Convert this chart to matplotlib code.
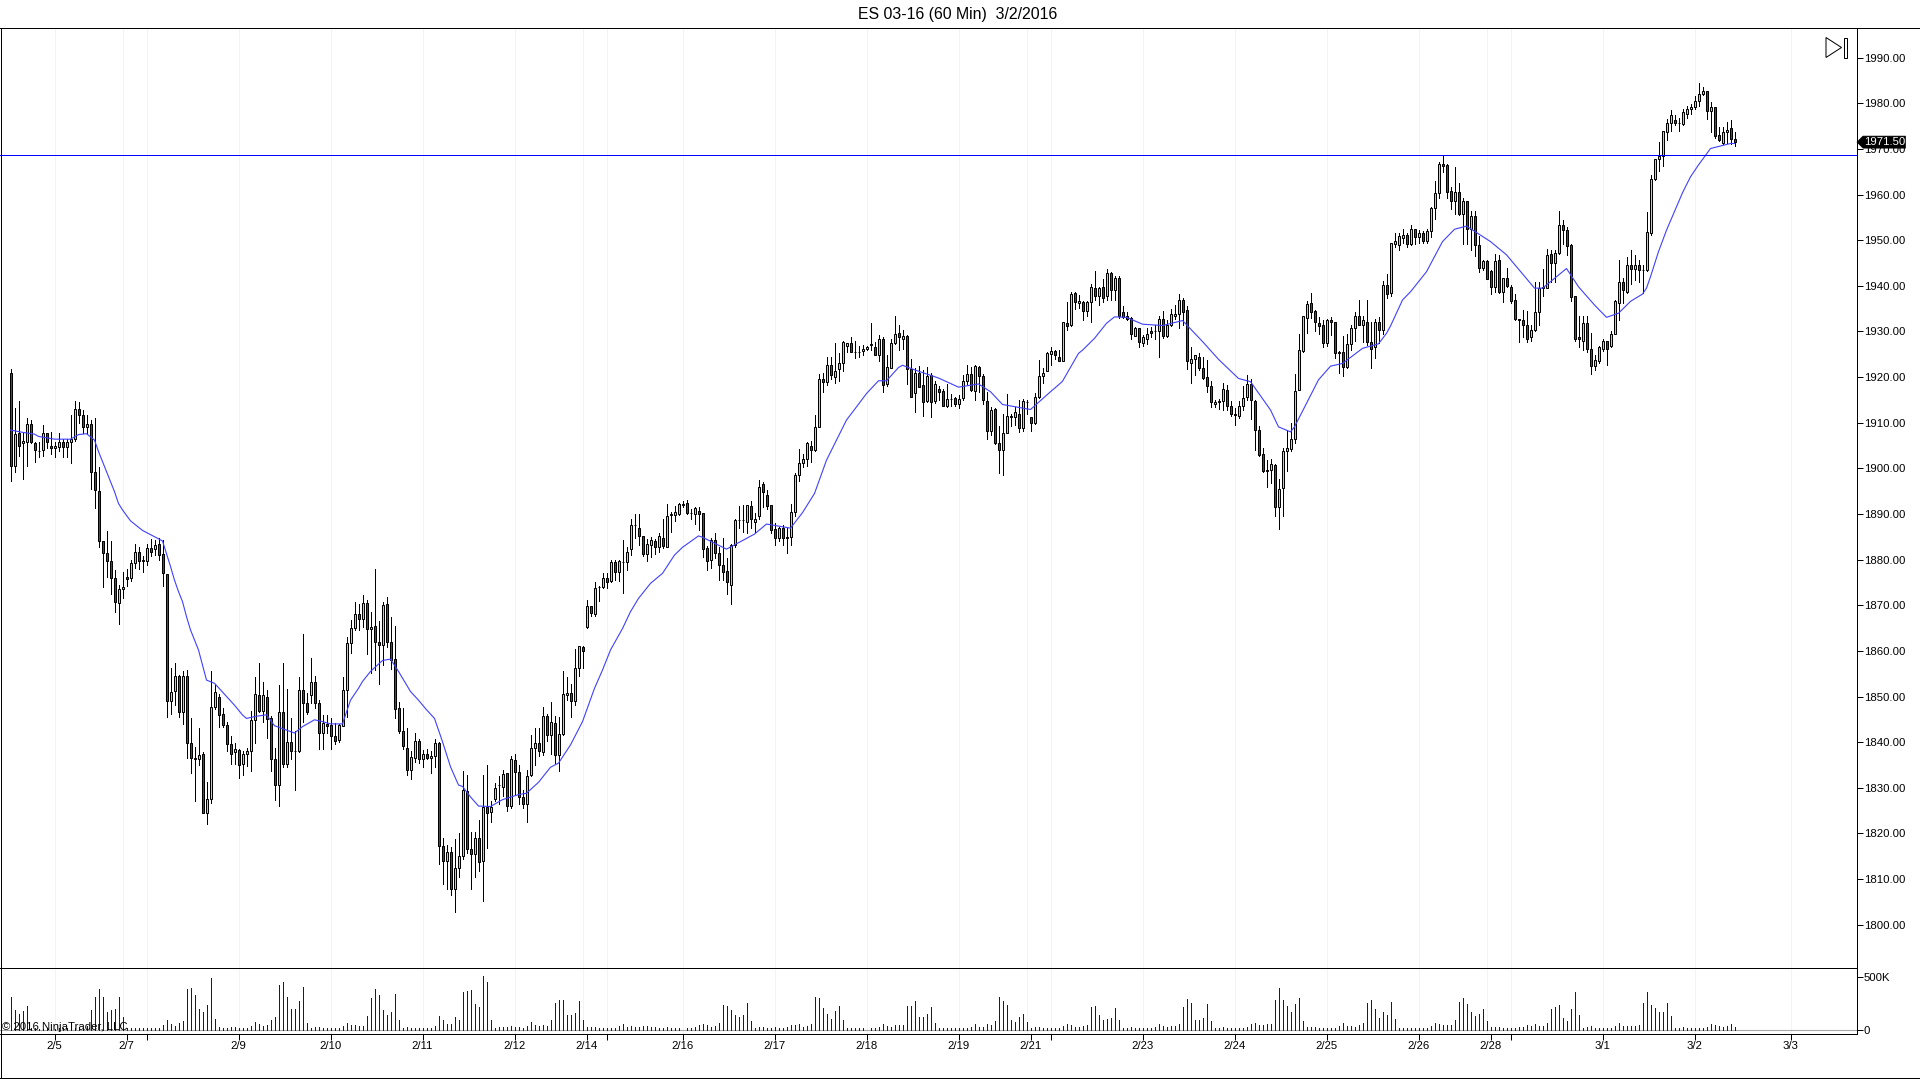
"""
ES 03-16 (60 Min) candlestick chart with a moving average and a volume panel.

Values were read off the reference picture, one bar at a time.
"""

import numpy as np
import matplotlib
matplotlib.use("Agg")
import matplotlib.pyplot as plt
from matplotlib.lines import Line2D
from matplotlib.patches import Polygon, Rectangle

opens = [
    1921, 1900.5, 1907.75, 1905.5, 1905.75, 1909.75, 1905.5, 1903.75, 1904, 1907.75,
    1905, 1904.5, 1904.75, 1905.75, 1904.75, 1905.75, 1906.5, 1913, 1911.75, 1909,
    1909.75, 1899.25, 1895, 1884, 1881.5, 1879.75, 1876, 1870.5, 1873.5, 1876.25,
    1876, 1879.25, 1881.75, 1880, 1879.75, 1882.5, 1882.25, 1883.5, 1881.25, 1876.75,
    1849, 1851.25, 1854.5, 1846.5, 1854.5, 1839.75, 1836.5, 1836.25, 1837.5, 1824.5,
    1827.5, 1847.75, 1850, 1846.25, 1843.75, 1839.5, 1837.75, 1838.25, 1835.25, 1837.5,
    1838, 1844.75, 1850.25, 1846.75, 1850, 1845.25, 1836.25, 1830.5, 1846.5, 1835.25,
    1840, 1838, 1838, 1851.5, 1848.5, 1850.25, 1853.25, 1848.5,
    1842, 1844, 1843.75, 1841.25, 1840.5, 1843.5, 1851.5, 1861.75, 1865, 1868,
    1867, 1870.5, 1864.75, 1865.5, 1862, 1861.25, 1870.25, 1862, 1858.25, 1847.5,
    1842.5, 1838.75, 1834, 1836.5, 1840.25, 1836.25, 1837.5, 1836.5, 1837, 1839.75,
    1817.25, 1814, 1816, 1807.75, 1812.5, 1815, 1829.25, 1816.5, 1815.5, 1819,
    1814, 1825.75, 1824.75, 1827.5, 1830.5, 1830.25, 1833.25, 1826, 1836, 1833.5,
    1828, 1826.5, 1832.75, 1838.75, 1839.75, 1837.75, 1845.75, 1841.5, 1844.25, 1837.25,
    1841.75, 1850.25, 1850.75, 1849, 1856.25, 1860.75,
    1865.25, 1869.75, 1868, 1874, 1874, 1876, 1875.25, 1879.5, 1877.25, 1879.5,
    1879.5, 1882.25, 1887.5, 1887,
    1885.25, 1881.25, 1883.25, 1884, 1882.75, 1884.75, 1882.75, 1889.75, 1889.75, 1890,
    1892, 1892.5, 1890.25, 1890, 1890.75, 1890.25, 1882.5, 1880, 1884.25, 1881.5,
    1878.75, 1877.5, 1874.5, 1883.25, 1888.75, 1888.75, 1888.25, 1891.75, 1888.25, 1889.5,
    1896.5, 1894.25, 1892, 1886.75, 1884.75, 1887, 1885, 1885, 1890.5, 1898.5,
    1901.25, 1902, 1905, 1904, 1909, 1919.5, 1919, 1922.75, 1920, 1921.75,
    1923, 1926.75, 1927.5, 1925.5, 1925.5, 1925.75, 1926.25, 1927, 1926.5, 1924.75,
    1928.25, 1918.5, 1922, 1927.5, 1929.75,
    1928.25, 1929, 1921.75, 1916.5, 1921, 1918.25, 1914.75, 1920.5, 1914.75, 1917.5,
    1917, 1913.75, 1915.25, 1915.5, 1914, 1915.5, 1919.25, 1920.75, 1917, 1922.25,
    1920.25, 1914.75, 1908.25, 1913, 1905.5, 1904, 1907.75, 1911.25, 1911.25, 1912,
    1908.75, 1914.5, 1911.25, 1910, 1915.75, 1920.25, 1921.25, 1925, 1925.75, 1924.5,
    1923.5, 1931.75, 1931.5, 1938.5, 1936.25, 1936.5, 1934.5, 1936.5, 1939.5, 1937.75,
    1939.75, 1937.75, 1942.75, 1939, 1941.75, 1934.25, 1933.5, 1933, 1929, 1930.75,
    1927.5, 1928.25, 1930, 1930, 1930, 1932.75, 1929, 1931.5, 1933.5, 1933.75,
    1937, 1934.75, 1923, 1924, 1924.5, 1922, 1920, 1918, 1914, 1914.75,
    1914.75, 1917.25, 1913.75, 1912, 1911.5, 1913.75, 1915.75, 1918.5, 1914.75, 1908.5,
    1903.25, 1899.75, 1899.75, 1900.75, 1891.5, 1895.75, 1903.75, 1904.25, 1906.5, 1917.25,
    1925.75, 1933, 1936.25, 1934.5, 1931.75, 1931.5, 1927.5, 1932.5, 1932, 1925.5,
    1925.5, 1922.25, 1927.25, 1930.75, 1933.5, 1931.5, 1932, 1927.75, 1926.5, 1932,
    1930.25, 1940.25, 1938.5, 1949.25, 1949, 1950.5, 1951.25, 1949.25, 1952.5, 1950.75,
    1951.5, 1949.75, 1952, 1957, 1960.25, 1966.75, 1966.5, 1960.75, 1958.5, 1960.5,
    1955.75, 1958.5, 1952.5, 1955.25, 1949, 1944, 1945.5, 1943.25, 1939.75, 1945.75,
    1938.75, 1941.75, 1939.75, 1937, 1932.75, 1932.5, 1931.5, 1928.75, 1930.25, 1934.25,
    1939.5, 1939.5, 1947, 1945, 1947.25, 1953.25, 1952.25, 1949, 1937.75, 1928.75,
    1928, 1931.75, 1926.25, 1922.5, 1923.5, 1926.25, 1928, 1926.75, 1929.5, 1936.25,
    1940.75, 1938.75, 1944.5, 1943.75, 1944.5, 1943.5, 1943.5, 1951.5, 1963.5, 1967.75,
    1968.5, 1973.75, 1975.75, 1976.25, 1975.75, 1975.5, 1977.75, 1978.75, 1979.25, 1980.5,
    1982, 1982.75, 1978.25, 1979.25, 1973, 1971.25, 1973.75, 1974.5, 1972.25,
]
highs = [
    1921.75, 1913.25, 1914.75, 1907.75, 1911, 1910.5, 1905.75, 1905.75, 1909.5, 1907.75,
    1908, 1905.75, 1907.75, 1906.5, 1906.5, 1911.75, 1914.75, 1914.5, 1912.75, 1911.75,
    1910.5, 1911, 1900.25, 1884, 1886.25, 1884, 1877.75, 1874.5, 1877.25, 1878,
    1880, 1883.5, 1882.75, 1880.75, 1883.5, 1884.5, 1884.25, 1884.75, 1884.25, 1876.75,
    1856.25, 1857.25, 1854.75, 1855.5, 1855.75, 1845.25, 1839, 1843, 1837.75, 1831.25,
    1855.5, 1852.5, 1850.5, 1847.5, 1844.5, 1841.25, 1839.75, 1838.5, 1838, 1838.75,
    1846.75, 1854.25, 1857.25, 1853.25, 1851.5, 1845.75, 1838.75, 1852.5, 1857.25, 1851.75,
    1845.25, 1842.5, 1854.25, 1863.75, 1850.75, 1858.5, 1854.5, 1849.25,
    1846, 1846, 1845.25, 1844.25, 1844, 1854.25, 1863, 1866.75, 1870.75, 1870.25,
    1872.25, 1871.25, 1868.5, 1878, 1866.5, 1870.75, 1871.75, 1867.5, 1865.5, 1848.75,
    1847.5, 1843, 1838, 1842, 1840.75, 1838.25, 1838.5, 1838, 1840.75, 1840,
    1819, 1817.5, 1817, 1818.75, 1820, 1833.75, 1832.75, 1820.25, 1820.25, 1823,
    1832.75, 1835, 1827, 1831, 1832.5, 1834, 1833.25, 1837, 1837.5, 1835,
    1829.5, 1834, 1841.5, 1843, 1843, 1847.75, 1846.25, 1848.75, 1845.75, 1845.5,
    1855.5, 1854.25, 1852.75, 1860.5, 1861, 1861,
    1871.25, 1869.75, 1875, 1874.25, 1877, 1877, 1880, 1880, 1880, 1884.25,
    1882.75, 1889, 1890, 1890,
    1885.25, 1884.5, 1885, 1884.5, 1885.75, 1889, 1892.25, 1890.5, 1891.75, 1892.5,
    1892.75, 1893, 1891, 1891.5, 1891.5, 1890.25, 1883, 1884.75, 1885.75, 1882.75,
    1884.75, 1880.25, 1883.5, 1889, 1891.75, 1892, 1892, 1892.75, 1890.25, 1897.5,
    1897, 1895.25, 1892, 1888, 1887.25, 1887.5, 1887, 1892.25, 1899, 1904.25,
    1903.25, 1905.75, 1906, 1911.75, 1920.75, 1921, 1924.5, 1924.5, 1927.5, 1925.25,
    1928, 1927.5, 1928.75, 1928, 1926.75, 1927, 1926.75, 1931.75, 1927.75, 1929.25,
    1928.75, 1924.75, 1928.25, 1933.5, 1931.5,
    1930.25, 1929.25, 1924, 1922, 1922.5, 1921.5, 1922.25, 1921, 1919.25, 1918,
    1917.5, 1918.5, 1916.25, 1915.75, 1916, 1920.5, 1922.75, 1922.25, 1922.75, 1922.5,
    1920.75, 1916.75, 1913.5, 1913.25, 1909.25, 1912, 1916.25, 1912, 1913.5, 1915,
    1915.25, 1915, 1911.25, 1916.5, 1923.75, 1922, 1925.5, 1926.5, 1926, 1926,
    1932, 1936.5, 1938.75, 1938.75, 1938, 1936.75, 1936.75, 1940.5, 1943.25, 1939.75,
    1941.5, 1943.75, 1943, 1942.25, 1942.25, 1935.5, 1934.25, 1933.25, 1931, 1930.75,
    1929.25, 1930.75, 1931, 1931.5, 1933.5, 1934.5, 1932.5, 1935, 1935.75, 1938.25,
    1937.25, 1935.5, 1926.5, 1924.75, 1925.25, 1924.5, 1923.75, 1919.25, 1915, 1915.25,
    1918.75, 1918.25, 1914.75, 1913.25, 1914.75, 1918, 1920.5, 1919.5, 1915, 1909.25,
    1904.5, 1901.75, 1902, 1901, 1897.75, 1904.5, 1908.5, 1910, 1920.75, 1929.5,
    1933.5, 1936.75, 1938.5, 1934.75, 1933.25, 1932.5, 1932.75, 1933.25, 1932, 1925.75,
    1929, 1929.5, 1931.5, 1934.25, 1937, 1933.5, 1937, 1932, 1932.75, 1933.25,
    1941, 1942.5, 1949.5, 1951.5, 1951.5, 1952.5, 1951.5, 1953.25, 1952.5, 1952.25,
    1952, 1952.5, 1957.25, 1963, 1967.25, 1968.75, 1966.75, 1961.75, 1966, 1962.5,
    1959.25, 1958.5, 1956.5, 1956.5, 1951, 1945.75, 1945.75, 1943.5, 1947, 1946.75,
    1941.75, 1944, 1940.25, 1938.25, 1932.75, 1934.75, 1934.5, 1931.5, 1940.75, 1940.75,
    1943.75, 1948, 1947.75, 1947.75, 1956.5, 1954.5, 1953, 1949.25, 1937.75, 1933.5,
    1933.5, 1933.5, 1929.75, 1924.75, 1926.75, 1928.25, 1928, 1930, 1937, 1945.75,
    1941.75, 1946.25, 1947.75, 1946.75, 1945.75, 1944.5, 1956.25, 1964.25, 1967.75, 1971.5,
    1974, 1976.5, 1978.5, 1977.5, 1976.75, 1978.75, 1979.5, 1979.75, 1981.5, 1984.5,
    1983.5, 1982.75, 1980.25, 1979.25, 1974.75, 1974.75, 1976, 1976.25, 1973.75,
]
lows = [
    1897.25, 1899.25, 1902.75, 1897.75, 1900.5, 1905.5, 1901.5, 1902.5, 1902.75, 1904.5,
    1903.25, 1902.5, 1903.75, 1902.5, 1902.5, 1901.25, 1906, 1910, 1907.75, 1907.75,
    1895.5, 1891.25, 1882.75, 1874, 1876.25, 1872.5, 1868.5, 1866, 1871.5, 1874.25,
    1875.25, 1878.25, 1878, 1877.25, 1878.75, 1880.75, 1881, 1880, 1874.25, 1845.5,
    1846.25, 1848.25, 1845.5, 1844, 1836.5, 1833.25, 1827, 1835, 1824.5, 1822,
    1826.75, 1847.25, 1843.25, 1843.25, 1838, 1835.25, 1835.25, 1832.25, 1832.75, 1834.75,
    1833.75, 1839.75, 1846.5, 1844.5, 1841, 1833.75, 1827.25, 1826, 1834.5, 1834.5,
    1836.25, 1829.5, 1837.75, 1844.5, 1846.25, 1848.5, 1847.5, 1838.5,
    1838.5, 1842, 1838.5, 1839.5, 1840, 1843.5, 1845.5, 1859.5, 1864.5, 1864.5,
    1865.25, 1859.25, 1855.25, 1855.75, 1852.75, 1857, 1860.75, 1856, 1845.25, 1842,
    1838.5, 1832.75, 1832, 1835.75, 1835.5, 1834.5, 1836.25, 1833.25, 1834.5, 1813.25,
    1809, 1807.75, 1806.5, 1802.75, 1810.5, 1814.5, 1815.75, 1807.75, 1810.5, 1811.75,
    1805.25, 1816.75, 1822.5, 1827, 1826.5, 1828.25, 1825, 1825.5, 1828.5, 1826.5,
    1825.5, 1822.5, 1832.5, 1835, 1837, 1837.25, 1840.25, 1837.5, 1835.5, 1833.75,
    1841.5, 1849.25, 1845.5, 1848.25, 1854.5, 1856.25,
    1865, 1867.75, 1867.75, 1871, 1873.75, 1873.75, 1875, 1875.5, 1875.25, 1872.75,
    1877.75, 1881, 1884.75, 1883.25,
    1880.75, 1879.75, 1880.5, 1881.25, 1881.75, 1882.5, 1882.75, 1886, 1888.5, 1889.75,
    1891.5, 1890, 1889, 1887.75, 1886.5, 1880.5, 1877.75, 1878.25, 1880.25, 1875.5,
    1875.5, 1872.5, 1870.25, 1882.75, 1887, 1886, 1885.75, 1887, 1886, 1889,
    1891.5, 1891, 1885.75, 1883.25, 1884, 1883.25, 1881.5, 1883.25, 1889.5, 1897.25,
    1900.25, 1900.5, 1901.5, 1903.75, 1909, 1916.75, 1918.25, 1919.5, 1918.75, 1919.25,
    1921.25, 1925.5, 1925.5, 1924.25, 1924.5, 1924.75, 1926, 1926, 1924.75, 1923.5,
    1916.75, 1918, 1922, 1927.25, 1926,
    1926.25, 1918.5, 1915.75, 1912.25, 1917.75, 1911.5, 1914.5, 1911.25, 1914.25, 1915,
    1913.75, 1913.5, 1913.75, 1913.75, 1913.25, 1915, 1918.5, 1917, 1915, 1916.75,
    1914, 1906.5, 1907.25, 1905.25, 1899, 1898.5, 1907.75, 1909.25, 1909.5, 1908,
    1908.25, 1912, 1908.25, 1909.75, 1915.5, 1918.75, 1921.25, 1922.75, 1924, 1923.5,
    1923.5, 1930.25, 1931.25, 1935, 1935.25, 1932.5, 1933.5, 1932, 1937, 1935.75,
    1936.5, 1937, 1937, 1937, 1933, 1933, 1932.5, 1928.25, 1929, 1926.5,
    1926.75, 1927.25, 1928.75, 1928.25, 1924.5, 1928.5, 1928.75, 1931.25, 1932.75, 1930.75,
    1931.5, 1921.75, 1918.75, 1920.5, 1921.5, 1919.5, 1916.75, 1913.5, 1913.5, 1913,
    1912.75, 1912.75, 1911.5, 1909.5, 1911, 1912.75, 1915, 1910.75, 1904, 1902.75,
    1899.25, 1896, 1896.75, 1889.5, 1886.75, 1889.5, 1899.5, 1903.75, 1905.5, 1917.25,
    1925.5, 1929.75, 1933, 1930, 1929.5, 1926.5, 1926.75, 1929.25, 1924.25, 1921,
    1920.25, 1922, 1926, 1928, 1931.5, 1927.75, 1927, 1922, 1924.25, 1927.5,
    1929.5, 1937.25, 1937.75, 1948.5, 1947.75, 1949.5, 1948.5, 1949, 1949.25, 1949.5,
    1949.5, 1949.5, 1950.75, 1954.75, 1959.25, 1965, 1959.25, 1956.75, 1955.75, 1955.5,
    1949.25, 1949.25, 1947.75, 1946.5, 1943, 1943.5, 1941.5, 1938.25, 1938.75, 1938.5,
    1936.5, 1939.75, 1936.25, 1932.5, 1927.75, 1928.75, 1927.75, 1928, 1930, 1931.5,
    1937.75, 1939.5, 1940.75, 1940.75, 1947, 1949.25, 1946.75, 1936.75, 1928, 1926.5,
    1926, 1925.5, 1920.75, 1921.5, 1923, 1925.75, 1922.75, 1926.5, 1929.5, 1932.5,
    1936.25, 1938.5, 1940.5, 1941.25, 1940.75, 1938.5, 1943.25, 1951.25, 1963.25, 1965.25,
    1966.25, 1972, 1974, 1975.25, 1974, 1975.25, 1976.75, 1977.75, 1978.75, 1979.5,
    1981.75, 1976.5, 1973.75, 1972.5, 1971.75, 1971, 1971.25, 1971, 1970.75,
]
closes = [
    1900.5, 1907.5, 1905, 1906, 1909.75, 1905.75, 1904, 1903.75, 1907.75, 1905.75,
    1904.5, 1905, 1905.75, 1904.75, 1905.75, 1906.5, 1913, 1911.75, 1909, 1909.75,
    1899.25, 1895.25, 1884, 1881.5, 1879.75, 1876, 1870.75, 1873.5, 1874, 1875.75,
    1879.25, 1881.75, 1879.75, 1879.75, 1882.5, 1881.75, 1883.25, 1881, 1877, 1849,
    1851, 1854.5, 1846.5, 1854.5, 1839.75, 1836.5, 1836.25, 1837.25, 1824.5, 1827.5,
    1847.75, 1851, 1846, 1843.75, 1839.5, 1837.5, 1838.5, 1835, 1837.5, 1838,
    1844.75, 1850.5, 1846.75, 1850.25, 1845, 1836.25, 1830.5, 1846.5, 1835.25, 1840,
    1838, 1838, 1851.5, 1848.5, 1846.5, 1853.25, 1848.5, 1842,
    1844.25, 1843.5, 1841.25, 1840.25, 1843.75, 1851.5, 1861.75, 1865, 1868, 1867,
    1870.5, 1864.75, 1865.25, 1862, 1861.25, 1870, 1862, 1858, 1847.25, 1842.5,
    1839.25, 1834, 1836.75, 1840.25, 1836.25, 1837.5, 1836.5, 1837, 1839.75, 1817.25,
    1814, 1816, 1807.75, 1812.5, 1815, 1829.5, 1816.5, 1815.5, 1819, 1813.75,
    1825.75, 1824.5, 1825.75, 1830, 1830.5, 1833, 1826, 1836.25, 1833.5, 1828,
    1826.5, 1832.5, 1838.75, 1839.75, 1838, 1845.75, 1841.5, 1844.5, 1837.25, 1841.75,
    1850.5, 1850.75, 1849, 1856.25, 1861, 1860,
    1869.75, 1868.25, 1873.75, 1874, 1876, 1875, 1879.5, 1877.25, 1879.75, 1879.5,
    1881.75, 1887.5, 1887.5, 1885.25,
    1881.25, 1883.5, 1884.25, 1882.75, 1885.25, 1883, 1889.5, 1890, 1890.5, 1892.25,
    1892.25, 1890.25, 1890.25, 1891.25, 1890, 1882.25, 1879.75, 1884.25, 1881.5, 1878.75,
    1877.25, 1875, 1883.25, 1888.75, 1888.75, 1888.75, 1892, 1889, 1889, 1896,
    1894.75, 1891.75, 1886.5, 1884.75, 1887, 1884.75, 1884.75, 1890.5, 1898.5, 1901.25,
    1902, 1905.5, 1904, 1909, 1919.5, 1919, 1922.75, 1920.5, 1921.25, 1923,
    1927.75, 1927.5, 1925.5, 1925.5, 1925.5, 1926.25, 1926.5, 1927.25, 1924.75, 1928.25,
    1918.25, 1922.25, 1927.5, 1929.5, 1928.75,
    1929, 1921.75, 1915.75, 1921, 1917.75, 1914.5, 1920.25, 1914.5, 1918.5, 1916.75,
    1913.75, 1915.25, 1915.25, 1914, 1915.25, 1919.25, 1920.75, 1917.25, 1922.5, 1920.25,
    1915, 1908.25, 1912.75, 1905.5, 1904, 1907.75, 1911.5, 1911.5, 1912.25, 1908.75,
    1914.75, 1914.5, 1910, 1915.75, 1920.25, 1921, 1925.25, 1925.75, 1924.75, 1923.5,
    1932, 1931.25, 1938.25, 1936.5, 1936.75, 1934.5, 1936.5, 1939.75, 1937.75, 1939.5,
    1937.25, 1942.75, 1939, 1941.75, 1933.5, 1933.25, 1932.75, 1929.5, 1930.75, 1927.75,
    1928.75, 1929.5, 1929.75, 1930, 1932.75, 1929, 1931.5, 1933.75, 1933.75, 1937,
    1934.25, 1923.5, 1924, 1924.75, 1922, 1919.75, 1918, 1914.5, 1914.5, 1914.5,
    1917.5, 1913.75, 1912, 1911.75, 1913.75, 1915.5, 1918.5, 1915, 1908.5, 1903,
    1899.5, 1899.5, 1901, 1891.5, 1895.5, 1903.75, 1904.5, 1906.5, 1917, 1926,
    1933.5, 1936, 1934.25, 1932, 1931.25, 1927.5, 1932.5, 1932, 1925.25, 1925.25,
    1922.25, 1927.25, 1930.75, 1933.5, 1931.5, 1932.5, 1927.75, 1926.25, 1932, 1930.25,
    1940.25, 1938.25, 1949.5, 1949.75, 1951, 1951.25, 1949.25, 1952.5, 1950.75, 1951.5,
    1949.75, 1952, 1957, 1960.25, 1966.75, 1966.25, 1960.5, 1958.5, 1960.5, 1955.75,
    1958.5, 1952.5, 1955.25, 1949, 1944, 1945.5, 1941.5, 1939.75, 1945.5, 1938.75,
    1941.75, 1940, 1936.75, 1932.75, 1932.5, 1931.5, 1928.25, 1930.25, 1934.25, 1939.5,
    1939.75, 1946.75, 1945, 1947.25, 1953.25, 1952.25, 1948.75, 1937.5, 1928.25, 1928.25,
    1931.75, 1926.25, 1922.5, 1923.75, 1926.5, 1928, 1926.25, 1929.5, 1936.75, 1940.75,
    1939, 1944.5, 1943.75, 1944.5, 1943.5, 1943.5, 1951.75, 1963.5, 1967.75, 1968.5,
    1974, 1975.75, 1977.5, 1975.75, 1975.75, 1978, 1978.75, 1979.25, 1980.5, 1982,
    1982.75, 1978.25, 1979.25, 1972.75, 1972, 1973.75, 1974.25, 1972.25, 1971.5,
]
volumes_k = [
    310, 190, 152, 180, 228, 16, 16, 13, 13, 16, 13, 13, 16, 16, 19, 22, 22, 28, 16, 38,
    190, 313, 389, 313, 174, 190, 199, 313, 123, 16, 16, 16, 16, 16, 16, 16, 16, 16,
    44, 95, 57, 38, 66, 85, 389, 399, 332, 199, 171, 237, 494, 104, 28, 16, 22, 28, 28, 16, 16, 16,
    38, 76, 57, 38, 47, 95, 123, 427, 456, 313, 199, 199, 275, 408, 66, 16, 28, 28, 19, 16,
    16, 16, 19, 38, 66, 47, 47, 38, 38, 133, 304, 389, 332, 190, 142, 171, 342, 95, 22, 32,
    22, 16, 16, 16, 16, 16, 38, 133, 95, 57, 57, 123, 95, 361, 370, 380, 247, 218, 513, 456,
    95, 16, 28, 28, 28, 38, 28, 28, 16, 38, 76, 47, 38, 47, 38, 95, 256, 285, 285, 142,
    142, 161, 275, 95, 28, 28, 28, 16, 16, 16, 16, 19, 38, 57, 28, 38, 28, 28,
    38, 38, 28, 28, 16, 16, 28, 16, 16, 16, 0, 16, 16, 28, 47, 57, 47, 28, 38, 66,
    237, 228, 190, 142, 123, 142, 256, 85, 16, 28, 28, 16, 16, 28, 16, 16, 28, 47, 47, 57,
    28, 38, 57, 313, 304, 209, 152, 104, 180, 228, 95, 16, 16, 16, 16, 16, 0, 16, 16, 28,
    57, 38, 28, 47, 47, 47, 228, 228, 275, 123, 123, 152, 218, 66, 16, 16, 16, 16, 16, 16,
    16, 16, 28, 57, 28, 28, 57, 47, 85, 313, 275, 237, 95, 76, 123, 152, 76, 16, 28, 28,
    16, 16, 16, 16, 16, 38, 57, 47, 28, 28, 38, 47, 218, 228, 142, 95, 104, 114, 209, 95,
    16, 16, 28, 16, 16, 16, 16, 16, 28, 57, 38, 28, 38, 38, 57, 218, 294, 256, 95, 95,
    114, 247, 85, 16, 16, 28, 16, 16, 16, 16, 16, 28, 57, 66, 47, 47, 57, 57, 285, 399,
    285, 228, 171, 247, 304, 85, 28, 28, 28, 16, 16, 16, 16, 16, 38, 66, 38, 38, 28, 47,
    66, 256, 285, 199, 114, 171, 142, 266, 104, 16, 16, 16, 16, 16, 16, 16, 16, 38, 66, 57,
    47, 47, 47, 95, 266, 304, 247, 171, 133, 152, 199, 85, 28, 28, 28, 16, 16, 16, 16, 28,
    28, 47, 38, 57, 38, 38, 66, 199, 218, 237, 114, 85, 199, 361, 142, 16, 28, 38, 16, 16,
    16, 16, 16, 38, 66, 38, 38, 38, 38, 47, 256, 361, 237, 209, 171, 171, 256, 133, 16, 16,
    28, 16, 16, 16, 16, 16, 28, 57, 47, 38, 28, 38, 57, 28,
]

# moving average, read at the bars where its direction changes
ma_bars = [
    0, 3, 6, 7, 11, 15, 17, 19, 21, 22, 23, 24, 26, 27, 28, 30, 33, 38, 40, 41, 42, 43, 44, 45, 46, 47, 48, 49,
    51, 54, 56, 58, 59, 61, 64, 66, 71, 73, 76, 78, 80, 83, 85, 87, 88, 90, 93, 95, 97, 100, 102, 104, 106,
    108, 110, 112, 113, 115, 117, 120, 123, 127, 129, 132, 135, 137, 140, 143, 146, 148, 150, 153, 155, 157,
    160, 163, 166, 168, 172, 173, 179, 186, 189, 195, 198, 201, 204, 206, 209, 211, 214, 217, 219, 222, 223,
    226, 232, 237, 242, 245, 248, 255, 260, 262, 263, 267, 268, 271, 274, 276, 279, 283, 288, 293, 298, 302, 307,
    310, 315, 317, 320, 321, 327, 330, 333, 338, 342, 344, 345, 348, 350, 354, 358, 361, 364, 370, 374, 381, 383,
    384, 389, 392, 396, 399, 402, 405, 408, 409, 410, 412, 414, 416, 418, 420, 422, 425, 430, 431,
]
ma_values = [
    1908.4, 1907.9, 1907.5, 1907, 1906.4, 1906.4, 1907.4, 1907.6, 1906.2, 1903.7, 1901.5, 1899.3, 1894.9, 1892.3,
    1890.9, 1888.5, 1886.4, 1884.1, 1878.5, 1875.5, 1873, 1870.8, 1867.5, 1864.6, 1862.4, 1860.2, 1856.9, 1853.6,
    1852.9, 1850, 1848.1, 1845.95, 1845.2, 1845.6, 1846, 1843.6, 1842, 1843.4, 1844.9, 1844.5, 1844, 1844, 1849.2,
    1851.8, 1853.3, 1855.5, 1857.9, 1858.2, 1855.5, 1851.1, 1849.2, 1847.1, 1845.2, 1840.1, 1834.6, 1830.6, 1830.3,
    1828, 1826, 1825.9, 1827.4, 1828.5, 1828.8, 1831.2, 1834.5, 1835.4, 1839.4, 1844.5, 1851.8, 1855.8, 1860.2,
    1864.9, 1868.6, 1871.5, 1874.8, 1877, 1881, 1882.7, 1885.2, 1884.9, 1882.3, 1885.6, 1887.8, 1886.9, 1890.3,
    1894.5, 1901.8, 1905.3, 1910.6, 1912.9, 1916.4, 1919.2, 1919.2, 1922.1, 1922.6, 1921.6, 1919.8, 1917.8, 1918.5,
    1916.8, 1914, 1912.9, 1916.8, 1918.3, 1919.1, 1925.2, 1925.9, 1928.5, 1931.8, 1933.2, 1933.1, 1931.6, 1931.3,
    1932.4, 1927.8, 1923.9, 1919.7, 1919, 1912.8, 1909.1, 1908, 1909.1, 1919.4, 1922.4, 1923, 1926.3, 1927.3,
    1929.6, 1931.2, 1936.9, 1938.7, 1943.1, 1949.7, 1952.4, 1953.1, 1949.7, 1946.8, 1939.5, 1939.5, 1940.2, 1943.8,
    1939.8, 1935.8, 1933.1, 1934, 1936.6, 1938.2, 1939.5, 1942, 1947.5, 1952.2, 1956.3, 1960.4, 1963.9, 1966.5,
    1970.1, 1971.2, 1971.2,
]

level_price = 1968.75
price_ticks = list(range(1800, 2000, 10))
tick_bars = [11, 29, 34, 57, 80, 103, 126, 144, 149, 168, 191, 214, 237, 255, 260, 283, 306, 329, 352, 370, 375,
             398, 421, 445]
tick_labels = ["2/5", "2/7", "", "2/9", "2/10", "2/11", "2/12", "2/14", "", "2/16", "2/17", "2/18", "2/19",
               "2/21", "", "2/23", "2/24", "2/25", "2/26", "2/28", "", "3/1", "3/2", "3/3"]
grid_bars = [11, 28, 34, 57, 80, 103, 126, 143, 149, 168, 191, 214, 237, 254, 260, 283, 306, 329, 352, 369, 375,
             398, 421, 445]

W, H = 1920, 1079
AXIS_X = 1856.5   # right price axis, px
TOP_Y, SPLIT_Y, VOL_BOTTOM_Y = 27.5, 968.0, 1033.5
PX_PER_BAR = 4.0
FIRST_BAR_X = 10.5
PX_PER_POINT = 4.563
Y_1990 = 57.7
PX_PER_K = 52.7 / 500.0
Y_VOL0 = 1030.0
LINE_W = 0.72

plt.rcParams["font.family"] = ["Liberation Sans", "DejaVu Sans"]


def px_rect(y_top, y_bottom):
    """Return an axes rectangle in figure fractions from pixel rows."""
    return [0, 1 - y_bottom / H, AXIS_X / W, (y_bottom - y_top) / H]


def bar_limits():
    return (0 - FIRST_BAR_X) / PX_PER_BAR, (AXIS_X - FIRST_BAR_X) / PX_PER_BAR


def fig_line(fig, x0, y0, x1, y1):
    fig.add_artist(Line2D([x0 / W, x1 / W], [1 - y0 / H, 1 - y1 / H], color="black", lw=LINE_W,
                          transform=fig.transFigure, antialiased=False))


def draw_candles(ax, bars):
    o, h, l, c = map(np.array, (opens, highs, lows, closes))
    ax.vlines(bars, l, h, color="black", lw=LINE_W, antialiased=False, zorder=3)
    up = c >= o
    body_bottom = np.minimum(o, c)
    ax.bar(bars[up], (c - o)[up], bottom=body_bottom[up], width=0.5, facecolor="#90ee90",
           edgecolor="black", linewidth=LINE_W, zorder=4)
    ax.bar(bars[~up], (o - c)[~up], bottom=body_bottom[~up], width=0.5, facecolor="#ff0000",
           edgecolor="black", linewidth=LINE_W, zorder=4)


def draw_price_panel(fig, bars):
    ax = fig.add_axes(px_rect(TOP_Y, SPLIT_Y))
    ax.set_xlim(*bar_limits())
    ax.set_ylim(1990 - (SPLIT_Y - Y_1990) / PX_PER_POINT, 1990 + (Y_1990 - TOP_Y) / PX_PER_POINT)
    ax.vlines(grid_bars, *ax.get_ylim(), color="#f3f3f3", lw=LINE_W, zorder=1)
    draw_candles(ax, bars)
    ax.plot(ma_bars, ma_values, color="#4040ff", lw=0.8, zorder=5)
    ax.axhline(level_price, color="#0000ff", lw=LINE_W, zorder=6)

    ax.yaxis.tick_right()
    ax.set_yticks(price_ticks, [f"{p:.2f}" for p in price_ticks])
    ax.tick_params(axis="y", length=4.3, width=LINE_W, pad=1, labelsize=8.2)
    ax.set_xticks([])
    for side in ("left", "top", "bottom"):
        ax.spines[side].set_visible(False)
    ax.spines["right"].set_linewidth(LINE_W)

    # last price tag on the axis
    last = closes[-1]
    half = 6 / PX_PER_POINT
    tag_x = [1857 / AXIS_X, 1863 / AXIS_X, 1905.5 / AXIS_X, 1905.5 / AXIS_X, 1863 / AXIS_X]
    tag_y = [last, last + half, last + half, last - half, last - half]
    ax.add_patch(Polygon(list(zip(tag_x, tag_y)), closed=True, facecolor="black", edgecolor="black",
                         lw=0.5, transform=ax.get_yaxis_transform(), clip_on=False, zorder=8))
    ax.text(1884.5 / AXIS_X, last, f"{last:.2f}", color="white", fontsize=8.2, ha="center", va="center",
            transform=ax.get_yaxis_transform(), clip_on=False, zorder=9)
    return ax


def draw_volume_panel(fig, bars):
    ax = fig.add_axes(px_rect(SPLIT_Y, VOL_BOTTOM_Y))
    ax.set_xlim(*bar_limits())
    ax.set_ylim(-(VOL_BOTTOM_Y - Y_VOL0) / PX_PER_K, (Y_VOL0 - SPLIT_Y) / PX_PER_K)
    ax.vlines(grid_bars, *ax.get_ylim(), color="#f3f3f3", lw=LINE_W, zorder=1)
    ax.axhline(0, color="#a8a8a8", lw=0.8, zorder=2)
    ax.vlines(bars, 0, volumes_k, color="#0000ff", lw=LINE_W, antialiased=False, zorder=3)

    ax.yaxis.tick_right()
    ax.set_yticks([0, 500], ["0", "500K"])
    ax.tick_params(axis="y", length=4.3, width=LINE_W, pad=1, labelsize=8.2)
    ax.set_xticks(tick_bars, tick_labels)
    ax.tick_params(axis="x", length=4.3, width=LINE_W, pad=1, labelsize=8.2)
    ax.spines["left"].set_visible(False)
    for side in ("top", "right", "bottom"):
        ax.spines[side].set_linewidth(LINE_W)
    return ax


def draw_extras(fig):
    fig.text(957.5 / W, 1 - 14.5 / H, "ES 03-16 (60 Min)  3/2/2016", fontsize=11.4, ha="center", va="center")
    fig.text(2 / W, 1 - 1027 / H, "© 2016 NinjaTrader, LLC", fontsize=8.2, color="black", ha="left", va="center")
    # outer frame
    fig_line(fig, 0, TOP_Y, W, TOP_Y)
    fig_line(fig, 0, 1078, W, 1078)
    fig_line(fig, 0.5, TOP_Y, 0.5, 1078)
    # skip-to-end button
    tri = [(1826 / W, 1 - 37.5 / H), (1841.5 / W, 1 - 47.5 / H), (1826 / W, 1 - 57.5 / H)]
    fig.add_artist(Polygon(tri, closed=True, facecolor="white", edgecolor="black", lw=LINE_W,
                           transform=fig.transFigure))
    fig.add_artist(Rectangle((1843.5 / W, 1 - 57.5 / H), 3 / W, 20 / H, facecolor="white", edgecolor="black",
                             lw=LINE_W, transform=fig.transFigure))


def main():
    n = len(closes)
    assert len(opens) == n and len(highs) == n and len(lows) == n and len(volumes_k) == n, \
        (len(opens), len(highs), len(lows), n, len(volumes_k))
    assert len(ma_bars) == len(ma_values), (len(ma_bars), len(ma_values))
    assert len(tick_bars) == len(tick_labels)
    bars = np.arange(n)
    fig = plt.figure(figsize=(W / 100, H / 100), dpi=100, facecolor="white")
    draw_price_panel(fig, bars)
    draw_volume_panel(fig, bars)
    draw_extras(fig)
    fig.savefig("out.png", dpi=100, facecolor="white")


if __name__ == "__main__":
    main()
